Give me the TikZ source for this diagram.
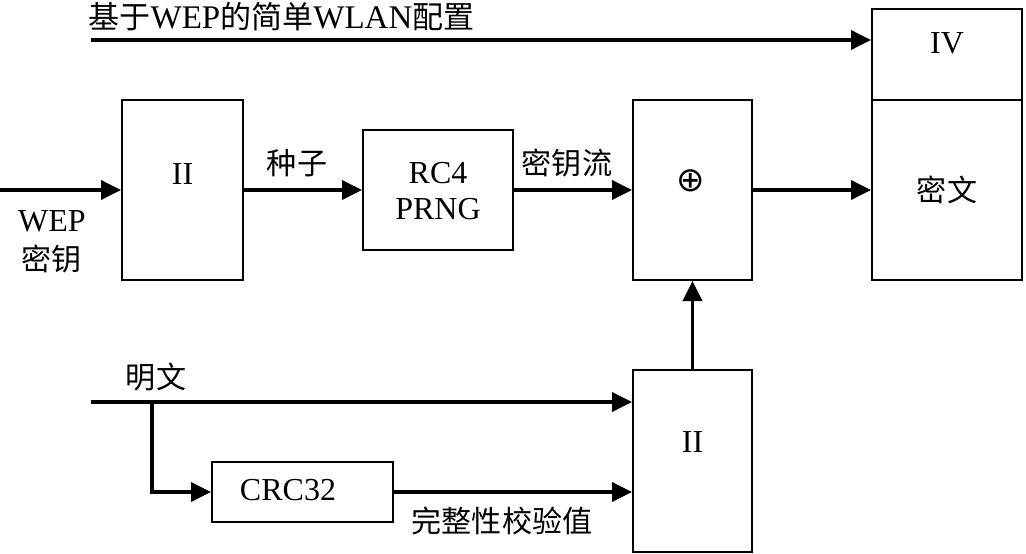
\documentclass[tikz,border=0pt]{standalone}
\usepackage{fontspec}
\setmainfont{Liberation Serif}
\newfontfamily\cjk[Scale=0.94]{Noto Sans CJK SC}
\newfontfamily\symfont{DejaVu Sans}
\usetikzlibrary{arrows.meta}
\tikzset{
	box/.style={draw, line width=2pt, inner sep=0pt},
	lbl/.style={font=\fontsize{32}{36}\selectfont, inner sep=0pt, align=center},
	arr/.style={line width=3.6pt, -{Triangle[length=20pt,width=19pt]}},
}

\begin{document}
\begin{tikzpicture}[x=1pt, y=-1pt]
		%%%%% START %%%%%
		\useasboundingbox (0, 0) rectangle (1026, 554);
		
		% boxes
		\node[box, minimum width=121, minimum height=180] (kII) at (182.5, 190) {};
		\node[box, minimum width=150, minimum height=120] (rc4) at (438, 190) {};
		\node[box, minimum width=119, minimum height=180] (xor) at (692.5, 190) {};
		\node[box, minimum width=150, minimum height=91] (iv) at (947, 54.5) {};
		\node[box, minimum width=150, minimum height=180] (ct) at (947, 190) {};
		\node[box, minimum width=119, minimum height=182] (pII) at (692.5, 461) {};
		\node[box, minimum width=181, minimum height=60] (crc) at (302.5, 492) {};
		
		% box texts
		\node[lbl] (kIItxt) at (182.5, 174) {II};
		\node[lbl] (rc4txt) at (438, 191) {RC4\\PRNG};
		\node[lbl, font=\symfont\fontsize{34}{38}\selectfont] (xortxt) at (691, 181) {⊕};
		\node[lbl] (ivtxt) at (947, 43) {IV};
		\node[lbl] (cttxt) at (947, 190) {\cjk 密文};
		\node[lbl] (pIItxt) at (692.5, 442) {II};
		\node[lbl] (crctxt) at (288, 490) {CRC32};
		
		% free ends
		\coordinate (tin) at (91, 40);
		\coordinate (kin) at (0, 190);
		\coordinate (pin) at (91, 402);
		\coordinate (br) at (152, 402);
		
		% connectors
		\draw[arr] (tin) -- (tin -| iv.west);
		\draw[arr] (kin) -- (kII.west);
		\draw[arr] (kII.east) -- (rc4.west);
		\draw[arr] (rc4.east) -- (xor.west);
		\draw[arr] (xor.east) -- (ct.west);
		\draw[arr] (pII.north) -- (xor.south);
		\draw[arr] (pin) -- (pin -| pII.west);
		\draw[arr] (br) |- (crc.west);
		\draw[arr] (crc.east) -- (crc.east -| pII.west);
		
		% labels
		\node[lbl, font=\fontsize{33}{36}\selectfont] (title) at (281.5, 17) {{\cjk 基于}WEP{\cjk 的简单}WLAN{\cjk 配置}};
		\node[lbl] (wep) at (52, 221) {WEP};
		\node[lbl] (wepkey) at (52, 259) {\cjk 密钥};
		\node[lbl] (seed) at (297, 163) {\cjk 种子};
		\node[lbl] (ks) at (567, 163) {\cjk 密钥流};
		\node[lbl] (pt) at (156, 377) {\cjk 明文};
		\node[lbl] (icv) at (502, 521) {\cjk 完整性校验值};
		%%%%% END %%%%%
\end{tikzpicture}
\end{document}
